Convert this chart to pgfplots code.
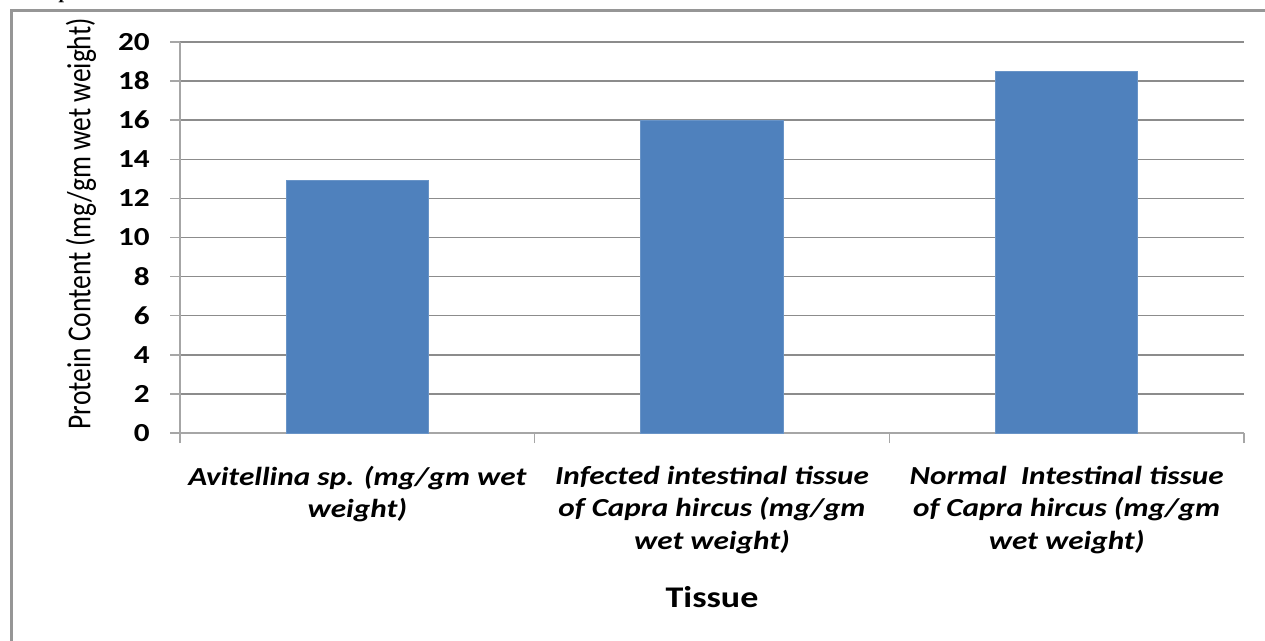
\documentclass[border=0pt]{standalone}
\usepackage{fontspec}
\setmainfont{Carlito}[FakeStretch=1.2]
\newfontfamily\plainfont{Carlito}
\newfontfamily\capfont{Liberation Serif}
\usepackage{graphicx}
\usepackage{pgfplots}
\pgfplotsset{compat=1.18}
\definecolor{barblue}{HTML}{4F81BD}
\definecolor{gridgray}{HTML}{8C8C8C}
\definecolor{axisgray}{HTML}{A6A6A6}
\definecolor{framegray}{HTML}{969696}
\begin{document}
\begin{tikzpicture}
\useasboundingbox (0pt,0pt) rectangle (1265pt,640pt);
\clip (0pt,0pt) rectangle (1265pt,640pt);
\fill[white] (0pt,0pt) rectangle (1265pt,640pt);
\draw[framegray, line width=3pt] (11.5pt,-10pt) -- (11.5pt,629pt) -- (1280pt,629pt);
\node[anchor=base west, inner sep=0pt, font=\capfont\bfseries\itshape\fontsize{20}{24}\selectfont] at (60pt,641pt) {p};
\begin{axis}[
  at={(180pt,207pt)}, anchor=south west,
  scale only axis, width=1064pt, height=391pt,
  xmin=0.5, xmax=3.5, ymin=0, ymax=20,
  ytick={0,2,...,20},
  xtick={1,2,3},
  xticklabels={{Avitellina sp. (mg/gm wet\\weight)},{Infected intestinal tissue\\of Capra hircus (mg/gm\\wet weight)},{Normal~ Intestinal tissue\\of Capra hircus (mg/gm\\wet weight)}},
  minor xtick={0.5,1.5,2.5,3.5},
  major x tick style={draw=none},
  axis x line=bottom, axis y line=left,
  axis line style={axisgray, line width=2pt, -},
  tick style={axisgray, line width=1.5pt},
  tick align=outside,
  major tick length=10pt, minor tick length=10pt,
  ymajorgrids,
  grid style={gridgray, line width=1.5pt},
  /pgf/number format/assume math mode=true,
  yticklabel style={font=\bfseries\fontsize{26}{30}\selectfont, anchor=east, inner sep=0pt, xshift=-20pt},
  xticklabel style={font=\bfseries\itshape\fontsize{26}{32.5}\selectfont, align=center, anchor=north, inner sep=0pt, yshift=-23pt},
  xlabel={Tissue},
  xlabel style={font=\bfseries\fontsize{30}{36}\selectfont, at={(axis description cs:0.5,-0.445)}, anchor=base, inner sep=0pt},
  ylabel={\scalebox{1}[1.22]{Protein Content (mg/gm wet weight)}},
  ylabel style={font=\plainfont\fontsize{27.5}{30}\selectfont, at={(axis description cs:-0.093,0.535)}, anchor=center},
  ybar, bar width=142pt,
]
\addplot[fill=barblue, draw=barblue!85!white, line width=1pt] coordinates {(1,12.9) (2,16.0) (3,18.5)};
\end{axis}
\end{tikzpicture}
\end{document}
